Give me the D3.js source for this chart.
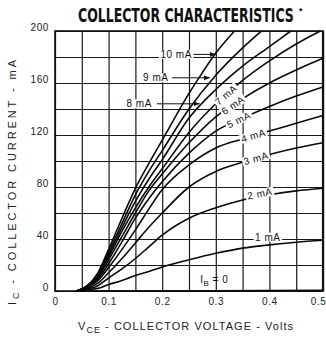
<!DOCTYPE html>
<html>
<head>
<meta charset="utf-8">
<script src="https://cdn.jsdelivr.net/npm/d3@7/dist/d3.min.js"></script>
<style>
  html, body { margin: 0; padding: 0; background: #fff; }
  svg { display: block; font-family: "Liberation Sans", Arial, sans-serif; }
</style>
</head>
<body>
<div id="chart"></div>
<script>
// ---- curve data: [V_CE (volts), I_C (mA)] ----
const ib0  = [[0.04, 0], [0.2, 0], [0.5, 0.5]];
const ib1  = [[0.04, 0], [0.06, 1], [0.08, 2], [0.1, 5], [0.125, 8], [0.15, 12], [0.175, 15], [0.2, 18.5], [0.25, 24], [0.3, 29], [0.35, 33], [0.4, 35.5], [0.45, 37.5], [0.5, 39]];
const ib2  = [[0.04, 0], [0.06, 1.5], [0.08, 4], [0.1, 10], [0.125, 17], [0.15, 25], [0.175, 34], [0.2, 43], [0.25, 56], [0.3, 64], [0.35, 70], [0.4, 74], [0.45, 77], [0.5, 79]];
const ib3  = [[0.04, 0], [0.06, 2], [0.08, 6], [0.1, 14], [0.125, 25], [0.15, 37], [0.175, 49], [0.2, 60], [0.25, 80], [0.3, 92], [0.35, 99], [0.4, 105], [0.45, 110], [0.5, 114]];
const ib4  = [[0.04, 0], [0.06, 3], [0.08, 8], [0.1, 18], [0.125, 32], [0.15, 47], [0.175, 63], [0.2, 78], [0.25, 97], [0.3, 110], [0.35, 117], [0.4, 123], [0.45, 129], [0.5, 135]];
const ib5  = [[0.04, 0], [0.06, 3], [0.08, 9], [0.1, 21], [0.125, 38], [0.15, 56], [0.175, 71], [0.2, 84], [0.25, 106], [0.3, 123], [0.35, 133], [0.4, 142], [0.45, 150], [0.5, 157]];
const ib6  = [[0.04, 0], [0.06, 3], [0.08, 10], [0.1, 24], [0.125, 42], [0.15, 60], [0.175, 77], [0.2, 90], [0.25, 114], [0.3, 134], [0.35, 148], [0.4, 160], [0.45, 170], [0.5, 179]];
const ib7  = [[0.04, 0], [0.06, 4], [0.08, 11], [0.1, 26], [0.125, 46], [0.15, 64], [0.175, 80], [0.2, 94], [0.25, 122], [0.3, 144], [0.35, 162], [0.4, 177], [0.45, 190], [0.495, 200]];
const ib8  = [[0.04, 0], [0.06, 4], [0.08, 12], [0.1, 28], [0.125, 49], [0.15, 69], [0.175, 86], [0.2, 101], [0.25, 133], [0.3, 155], [0.35, 173], [0.4, 188], [0.44, 200]];
const ib9  = [[0.04, 0], [0.06, 4], [0.08, 13], [0.1, 30], [0.125, 52], [0.15, 74], [0.175, 92], [0.2, 108], [0.25, 140], [0.3, 166], [0.35, 187], [0.385, 200]];
const ib10 = [[0.04, 0], [0.06, 4], [0.08, 14], [0.1, 32], [0.125, 56], [0.15, 79], [0.175, 98], [0.2, 116], [0.25, 152], [0.275, 168], [0.3, 183], [0.335, 200]];
const curves = [ib0, ib1, ib2, ib3, ib4, ib5, ib6, ib7, ib8, ib9, ib10];

// ---- axis ticks ----
const xTicks = [0, 0.1, 0.2, 0.3, 0.4, 0.5];
const xGrid = [0, 0.05, 0.1, 0.15, 0.2, 0.25, 0.3, 0.35, 0.4, 0.45, 0.5];
const yTicks = [0, 40, 80, 120, 160, 200];
const yGrid = [0, 20, 40, 60, 80, 100, 120, 140, 160, 180, 200];

// ---- curve labels (data coordinates) ----
const inlineLabels = [
  { text: '7 mA', ib: 7, v: 0.319, dy: 0 },
  { text: '6 mA', ib: 6, v: 0.332, dy: 0 },
  { text: '5 mA', ib: 5, v: 0.343, dy: 0 },
  { text: '4 mA', ib: 4, v: 0.370, dy: 0 },
  { text: '3 mA', ib: 3, v: 0.375, dy: 0 },
  { text: '2 mA', ib: 2, v: 0.382, dy: -3 },
  { text: '1 mA', ib: 1, v: 0.397, dy: -8, flat: true },
];
const arrowLabels = [
  { text: '10 mA', v: 0.226, i: 182, from: 0.258, to: 0.300 },
  { text: '9 mA',  v: 0.188, i: 164, from: 0.218, to: 0.289 },
  { text: '8 mA',  v: 0.157, i: 144, from: 0.190, to: 0.270 },
];

const W = 326, H = 338;
const x = d3.scaleLinear().domain([0, 0.5]).range([55, 323]);
const y = d3.scaleLinear().domain([0, 200]).range([291, 31]);

const svg = d3.select('#chart').append('svg')
  .attr('width', W).attr('height', H)
  .attr('viewBox', `0 0 ${W} ${H}`);

svg.append('defs').append('marker')
  .attr('id', 'arrow').attr('viewBox', '0 0 10 10')
  .attr('refX', 10).attr('refY', 5)
  .attr('markerWidth', 6).attr('markerHeight', 6)
  .attr('orient', 'auto')
  .append('path').attr('d', 'M0,1 L10,5 L0,9 Z').attr('fill', '#111');

// ---- grid ----
const gridG = svg.append('g');
gridG.append('g')
  .attr('transform', `translate(0,${y(0)})`)
  .call(d3.axisBottom(x).tickValues(xGrid).tickSize(-(y(0) - y(200))).tickFormat(''))
  .call(g => g.select('.domain').remove());
gridG.append('g')
  .attr('transform', `translate(${x(0)},0)`)
  .call(d3.axisLeft(y).tickValues(yGrid).tickSize(-(x(0.5) - x(0))).tickFormat(''))
  .call(g => g.select('.domain').remove());
gridG.selectAll('line').attr('stroke', '#1a1a1a').attr('stroke-width', 1.2);

svg.append('rect')
  .attr('x', x(0)).attr('y', y(200))
  .attr('width', x(0.5) - x(0)).attr('height', y(0) - y(200))
  .attr('fill', 'none').attr('stroke', '#111').attr('stroke-width', 1.6);
svg.append('line')
  .attr('x1', x(0.5)).attr('x2', x(0.5)).attr('y1', y(200)).attr('y2', y(0))
  .attr('stroke', '#111').attr('stroke-width', 2.2);

// ---- tick labels ----
const yAx = svg.append('g')
  .attr('transform', `translate(${x(0) - 4},0)`)
  .call(d3.axisLeft(y).tickValues(yTicks).tickSize(0).tickPadding(2).tickFormat(d3.format('d')));
yAx.select('.domain').remove();
yAx.selectAll('text').attr('dy', '-0.05em');

const xAx = svg.append('g')
  .attr('transform', `translate(0,${y(0) + 3})`)
  .call(d3.axisBottom(x).tickValues(xTicks).tickSize(0).tickPadding(4)
    .tickFormat(d => d === 0 ? '0' : d.toFixed(1)));
xAx.select('.domain').remove();
[xAx, yAx].forEach(a => a.selectAll('text')
  .attr('font-size', '10px').attr('fill', '#222')
  .attr('font-family', '"Liberation Sans", Arial, sans-serif')
  .attr('letter-spacing', '0.6px'));
// last x label sits against the page edge
xAx.selectAll('text').filter(d => d === 0.5).attr('text-anchor', 'end').attr('dx', 3);

// ---- curves ----
const line = d3.line().x(d => x(d[0])).y(d => y(d[1])).curve(d3.curveMonotoneX);
svg.append('g').selectAll('path').data(curves).join('path')
  .attr('d', line)
  .attr('fill', 'none').attr('stroke', '#0a0a0a').attr('stroke-width', 1.6);

// ---- labels ----
function interp(pts, v) {
  for (let k = 1; k < pts.length; k++) {
    if (v <= pts[k][0]) {
      const [v0, i0] = pts[k - 1], [v1, i1] = pts[k];
      return i0 + (i1 - i0) * (v - v0) / (v1 - v0);
    }
  }
  return pts[pts.length - 1][1];
}

function boxedLabel(px, py, angle, text) {
  const g = svg.append('g').attr('transform', `translate(${px},${py}) rotate(${angle})`);
  const bg = g.append('rect').attr('fill', '#fff');
  const t = g.append('text')
    .attr('text-anchor', 'middle').attr('dominant-baseline', 'central')
    .attr('font-size', '10px').attr('letter-spacing', '0.5px').attr('fill', '#111')
    .text(text);
  const b = t.node().getBBox();
  bg.attr('x', b.x - 1.5).attr('y', b.y + 1).attr('width', b.width + 3).attr('height', b.height - 2);
  return g;
}

inlineLabels.forEach(l => {
  const pts = curves[l.ib];
  const ang = l.flat ? 0 : Math.atan2(
    y(interp(pts, l.v + 0.01)) - y(interp(pts, l.v - 0.01)),
    x(l.v + 0.01) - x(l.v - 0.01)) * 180 / Math.PI;
  boxedLabel(x(l.v), y(interp(pts, l.v)) + l.dy, ang, l.text);
});

arrowLabels.forEach(l => {
  svg.append('line')
    .attr('x1', x(l.from)).attr('x2', x(l.to))
    .attr('y1', y(l.i)).attr('y2', y(l.i))
    .attr('stroke', '#111').attr('stroke-width', 1)
    .attr('marker-end', 'url(#arrow)');
  boxedLabel(x(l.v), y(l.i), 0, l.text);
});

// I_B = 0
const ib0Label = svg.append('text')
  .attr('x', x(0.297)).attr('y', y(6))
  .attr('text-anchor', 'middle').attr('font-size', '10px')
  .attr('letter-spacing', '0.5px').attr('fill', '#111');
ib0Label.append('tspan').text('I');
ib0Label.append('tspan').attr('dy', 3).attr('font-size', '8px').text('B');
ib0Label.append('tspan').attr('dy', -3).text(' = 0');

// ---- titles ----
// condensed look: squeeze the bold title horizontally to fit 78..296
const title = svg.append('text')
  .attr('font-family', '"Liberation Sans Narrow", "DejaVu Sans Condensed", "Liberation Sans", sans-serif')
  .attr('font-weight', 'bold').attr('font-size', '19px').attr('fill', '#111')
  .text('COLLECTOR CHARACTERISTICS');
const titleW = title.node().getComputedTextLength();
title.attr('transform', `translate(78,22) scale(${216 / titleW},1)`);
svg.append('text')
  .attr('x', 299).attr('y', 14)
  .attr('font-size', '9px').attr('font-weight', 'bold').attr('fill', '#111')
  .text('*');

const xt = svg.append('text')
  .attr('x', 78).attr('y', 330)
  .attr('font-size', '11px').attr('fill', '#222')
  .attr('textLength', 215).attr('lengthAdjust', 'spacing');
xt.append('tspan').text('V');
xt.append('tspan').attr('dy', 3).attr('font-size', '9px').text('CE');
xt.append('tspan').attr('dy', -3).text(' - COLLECTOR VOLTAGE - Volts');

const yt = svg.append('text')
  .attr('transform', 'translate(16,305) rotate(-90)')
  .attr('font-size', '11px').attr('fill', '#222')
  .attr('textLength', 245).attr('lengthAdjust', 'spacing');
yt.append('tspan').text('I');
yt.append('tspan').attr('dy', 3).attr('font-size', '9px').text('C');
yt.append('tspan').attr('dy', -3).text(' - COLLECTOR CURRENT - mA');
</script>
</body>
</html>
